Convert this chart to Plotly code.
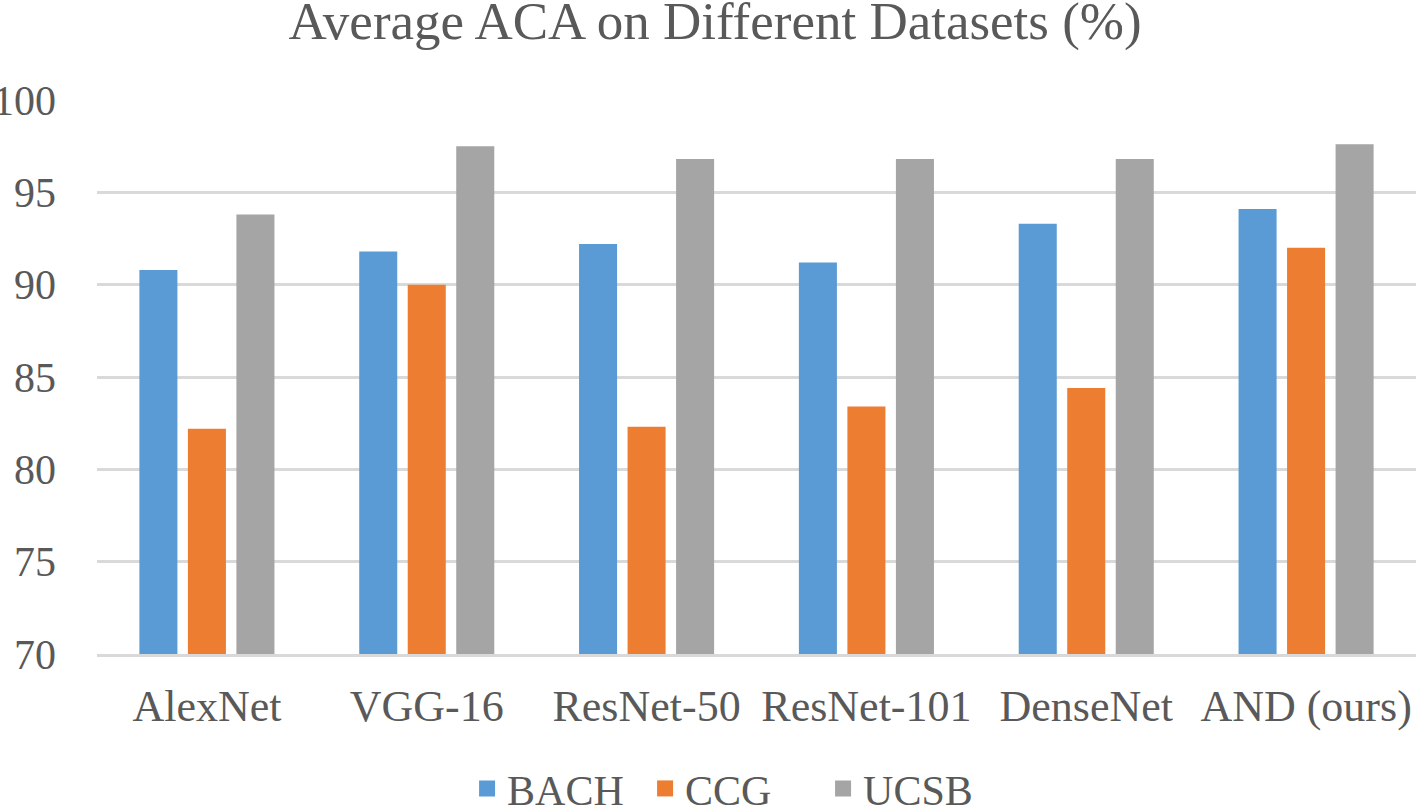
import plotly.graph_objects as go

categories = ["AlexNet", "VGG-16", "ResNet-50", "ResNet-101", "DenseNet", "AND (ours)"]
bach = [90.8, 91.8, 92.2, 91.2, 93.3, 94.1]
ccg = [82.2, 90.0, 82.3, 83.4, 84.4, 92.0]
ucsb = [93.8, 97.5, 96.8, 96.8, 96.8, 97.6]
y_ticks = [70, 75, 80, 85, 90, 95, 100]

font_family = "Liberation Serif, Times New Roman, serif"
text_color = "#595959"
series = [("BACH", bach, "#5B9BD5"), ("CCG", ccg, "#ED7D31"), ("UCSB", ucsb, "#A5A5A5")]

fig = go.Figure()
for name, vals, color in series:
    fig.add_trace(go.Bar(x=categories, y=vals, name=name, showlegend=False,
                         marker=dict(color=color, line=dict(width=0))))
# legend entries with larger square symbols
for name, vals, color in series:
    fig.add_trace(go.Scatter(x=[None], y=[None], mode="markers", name=name,
                             marker=dict(symbol="square", size=22, color=color)))

fig.update_layout(
    width=1416, height=808,
    paper_bgcolor="white", plot_bgcolor="white",
    margin=dict(l=97, r=0, t=100, b=154, autoexpand=False),
    barmode="group", bargap=0.338, bargroupgap=0.216,
    title=dict(text="Average ACA on Different Datasets (%)", x=0.505, xanchor="center",
               y=0.975, yanchor="middle",
               font=dict(family=font_family, size=53, color=text_color)),
    font=dict(family=font_family, size=42, color=text_color),
    showlegend=True,
    legend=dict(orientation="h", x=0.483, xanchor="center", y=-0.243, yanchor="middle",
                font=dict(family=font_family, size=42, color=text_color),
                itemsizing="trace", traceorder="normal", itemwidth=30,
                entrywidth=133, entrywidthmode="pixels",
                bgcolor="rgba(0,0,0,0)"),
)
fig.update_yaxes(range=[70, 100], tickvals=y_ticks, showgrid=True, gridcolor="#D9D9D9", gridwidth=3,
                 zeroline=False, showline=False, ticks="", ticklabelstandoff=40, automargin=False,
                 tickfont=dict(family=font_family, size=42, color=text_color))
fig.update_xaxes(showgrid=False, showline=True, linecolor="#D9D9D9", linewidth=3, ticks="",
                 ticklabelstandoff=11, automargin=False,
                 tickfont=dict(family=font_family, size=44, color=text_color))

fig.write_html("out.html", config={"displayModeBar": False},
               post_script="document.body.style.margin='0';")
